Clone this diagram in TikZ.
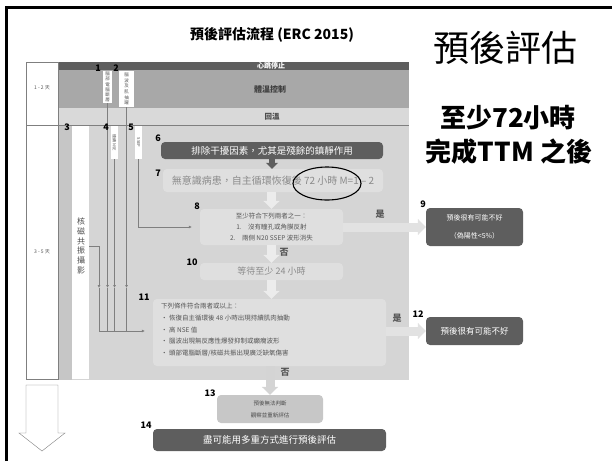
\documentclass[tikz,border=0pt]{standalone}
\usepackage{fontspec}
\setmainfont{Noto Sans CJK TC}
\usetikzlibrary{arrows.meta}
\definecolor{panelgray}{HTML}{5E5E5E}
\definecolor{midband}{HTML}{A8A8A8}
\definecolor{lightband}{HTML}{D9D9D9}
\definecolor{lowerbg}{HTML}{D5D5D5}
\definecolor{colbg}{HTML}{C6C6C6}
\definecolor{innerbox}{HTML}{DFDFDF}
\definecolor{fadetext}{HTML}{8A8A8A}
\definecolor{smalltext}{HTML}{555555}
\definecolor{linegray}{HTML}{7F7F7F}
\definecolor{fatgray}{HTML}{E2E2E2}
\tikzset{
  panel/.style={rounded corners=4pt, inner sep=0pt, align=center},
  darkpanel/.style={panel, fill=panelgray, text=white},
  fadepanel/.style={panel, fill=innerbox},
  numlabel/.style={font=\bfseries\fontsize{9}{9}\selectfont, inner sep=0pt},
  tag/.style={fill=white, inner sep=0pt, align=center, text=smalltext},
  feed/.style={linegray, line width=0.7pt},
  feedarrow/.style={feed, -{Latex[length=3pt,width=3pt]}},
  fatarrow/.style={line width=9pt, -{Triangle[width=16pt,length=8pt]}},
  answer/.style={font=\bfseries\fontsize{9}{9}\selectfont, text=smalltext, inner sep=0pt},
  daytext/.style={font=\fontsize{5}{5}\selectfont, text=smalltext, inner sep=0pt}
}
\begin{document}
\begin{tikzpicture}[x=1pt,y=-1pt]
\useasboundingbox (0,0) rectangle (612,461);
\draw[line width=3pt] (6.5,461) -- (6.5,7.5) -- (612,7.5);
\coordinate (tip) at (0,288);
\coordinate (join) at (99,331);

% title and side notes
\node[font=\bfseries\fontsize{14}{14}\selectfont] (title) at (272,35) {預後評估流程 (ERC 2015)};
\node[font=\fontsize{36}{36}\selectfont] (head) at (505,48) {預後評估};
\node[font=\bfseries\fontsize{26}{26}\selectfont] (cond1) at (508,118) {至少72小時};
\node[font=\bfseries\fontsize{26}{26}\selectfont] (cond2) at (509,152) {完成TTM 之後};

% time table
\fill[panelgray] (58,62) rectangle (409,70);
\fill[midband] (58,70) rectangle (409,108);
\fill[lightband] (58,108) rectangle (409,125);
\fill[lowerbg] (58,125) rectangle (409,380);
\fill[colbg] (58,125) rectangle (72,380);
\draw[linegray] (26,125) -- (409,125);
\node[draw=linegray, fill=white, minimum width=32, minimum height=63, inner sep=0pt] (d12) at (42,93.5) {};
\node[daytext] (d12txt) at (42,88) {1 - 2 天};
\node[draw=linegray, fill=white, minimum width=32, minimum height=254, inner sep=0pt, daytext] (d35) at (42,252) {3 - 5 天};
\node[font=\bfseries\fontsize{7}{7}\selectfont, text=white] (stop) at (271,66) {心跳停止};
\node[font=\bfseries\fontsize{8}{8}\selectfont, text=black!75] (cool) at (270,89) {體溫控制};
\node[font=\bfseries\fontsize{7.5}{7.5}\selectfont, text=black!70] (rewarm) at (272,117) {回溫};

% test columns
\node[tag, minimum width=9, minimum height=32, font=\fontsize{4.5}{5.2}\selectfont] (lab1) at (107.5,87) {腦\\部\\電\\腦\\斷\\層};
\node[tag, minimum width=15, minimum height=36, font=\fontsize{4.5}{5.6}\selectfont] (lab2) at (126.5,89) {腦\\波\\及\\肌\\抽\\躍};
\node[tag, minimum width=17, minimum height=253] (lab3) at (80.5,252.5) {};
\node[align=center, inner sep=0pt, font=\fontsize{8}{9.7}\selectfont, text=black!70] (mri) at (81,246) {核\\磁\\共\\振\\攝\\影};
\node[tag, minimum width=7, minimum height=33] (lab4) at (114.5,142.5) {};
\node[rotate=-90, inner sep=0pt, font=\fontsize{4}{4}\selectfont, text=smalltext] (lab4txt) at (lab4) {連續 NSE};
\node[tag, minimum width=7, minimum height=33] (lab5) at (138.5,142.5) {};
\node[rotate=-90, inner sep=0pt, font=\fontsize{4}{4}\selectfont, text=smalltext] (lab5txt) at (lab5) {SSEP};

% flow boxes
\node[darkpanel, minimum width=222, minimum height=17, font=\fontsize{9.5}{9.5}\selectfont] (b6) at (272,150.5) {排除干擾因素，尤其是殘餘的鎮靜作用};
\node[fadepanel, minimum width=220, minimum height=23, text=fadetext, font=\fontsize{10}{10}\selectfont] (b7) at (273,180.5) {無意識病患，自主循環恢復後 72 小時 M=1 – 2};
\node[fadepanel, minimum width=143, minimum height=36, text=smalltext, font=\fontsize{6.5}{11}\selectfont] (b8) at (271.5,227) {至少符合下列兩者之一：\\1.\quad 沒有瞳孔或角膜反射\\2.\quad 兩側 N20 SSEP 波形消失};
\node[darkpanel, minimum width=97, minimum height=38, font=\fontsize{7}{18}\selectfont] (b9) at (474.5,227) {預後很有可能不好\\（偽陽性<5\%）};
\node[fadepanel, minimum width=143, minimum height=17, text=fadetext, font=\fontsize{9}{9}\selectfont] (b10) at (271.5,271.5) {等待至少 24 小時};
\node[fadepanel, minimum width=233, minimum height=67] (b11) at (269.5,332.5) {};
\node[anchor=west, align=left, inner sep=0pt, text=smalltext, font=\fontsize{6.5}{11.8}\selectfont] (b11txt) at (161,330) {下列條件符合兩者或以上：\\\textbullet\ 恢復自主循環後 48 小時出現持續肌肉抽動\\\textbullet\ 高 NSE 值\\\textbullet\ 腦波出現無反應性爆發抑制或癲癇波形\\\textbullet\ 頭部電腦斷層/核磁共振出現廣泛缺氧傷害};
\node[darkpanel, minimum width=97, minimum height=28, font=\fontsize{8.5}{8.5}\selectfont] (b12) at (474.5,331) {預後很有可能不好};
\node[panel, fill=black!22, minimum width=106, minimum height=28, text=black!70, font=\fontsize{5.5}{12}\selectfont] (b13) at (270,409) {預後無法判斷\\觀察並重新評估};
\node[darkpanel, minimum width=233, minimum height=22, font=\fontsize{9.5}{9.5}\selectfont] (b14) at (269.5,440) {盡可能用多重方式進行預後評估};

% connectors
\draw[fatarrow, innerbox!60!white] (b8.north |- b7.south) -- (b8.north);
\draw[fatarrow, innerbox!60!white] (b8.south) -- (b10.north);
\draw[fatarrow, innerbox!60!white] (b10.south) -- (b10.south |- b11.north);
\draw[fatarrow, fatgray] (b8.east) -- (b9.west);
\draw[fatarrow, fatgray] (b11.east |- b12.west) -- (b12.west);
\draw[fatarrow, black!17] (b13.north |- b11.south) -- (b13.north);
\draw[line width=6pt, panelgray, -{Triangle[width=12pt,length=6pt]}] (b6.south) -- (b6.south |- b7.north);
\foreach \lab in {lab1,lab2,lab4} {
  \draw[feedarrow] (\lab.south) -- (\lab.south |- tip);
  \draw[feed] (\lab.south |- tip) -- (\lab.south |- join);
}
\draw[feedarrow] (lab3.east |- mri) -| (join |- tip);
\draw[feed] (join |- tip) -- (join);
\draw[feedarrow, shorten >=8pt] (join) -- (b11.west |- join);
\draw[feedarrow, shorten >=8pt] (lab5.south) |- (b8.west);
\draw[line width=1.1pt] (327,183.5) ellipse [x radius=34, y radius=16.5];

% answers
\node[answer] (yes1) at (380,214) {是};
\node[answer] (no1) at (284,252) {否};
\node[answer] (yes2) at (397,318) {是};
\node[answer] (no2) at (285,372) {否};

% step numbers
\node[numlabel] (n1) at (98,68) {1};
\node[numlabel] (n2) at (116,68) {2};
\node[numlabel] (n3) at (67,127) {3};
\node[numlabel] (n4) at (106,127) {4};
\node[numlabel] (n5) at (131,127) {5};
\node[numlabel] (n6) at (158,138) {6};
\node[numlabel] (n7) at (158,173) {7};
\node[numlabel] (n8) at (197,206) {8};
\node[numlabel] (n9) at (423,204) {9};
\node[numlabel] (n10) at (192,262) {10};
\node[numlabel] (n11) at (144,297) {11};
\node[numlabel] (n12) at (418,314) {12};
\node[numlabel] (n13) at (210,393) {13};
\node[numlabel] (n14) at (146,425) {14};

\draw[linegray, fill=white] (26,385) -- (58,385) -- (58,433) -- (65,433) -- (42,451) -- (19,433) -- (26,433) -- cycle;
\end{tikzpicture}
\end{document}
